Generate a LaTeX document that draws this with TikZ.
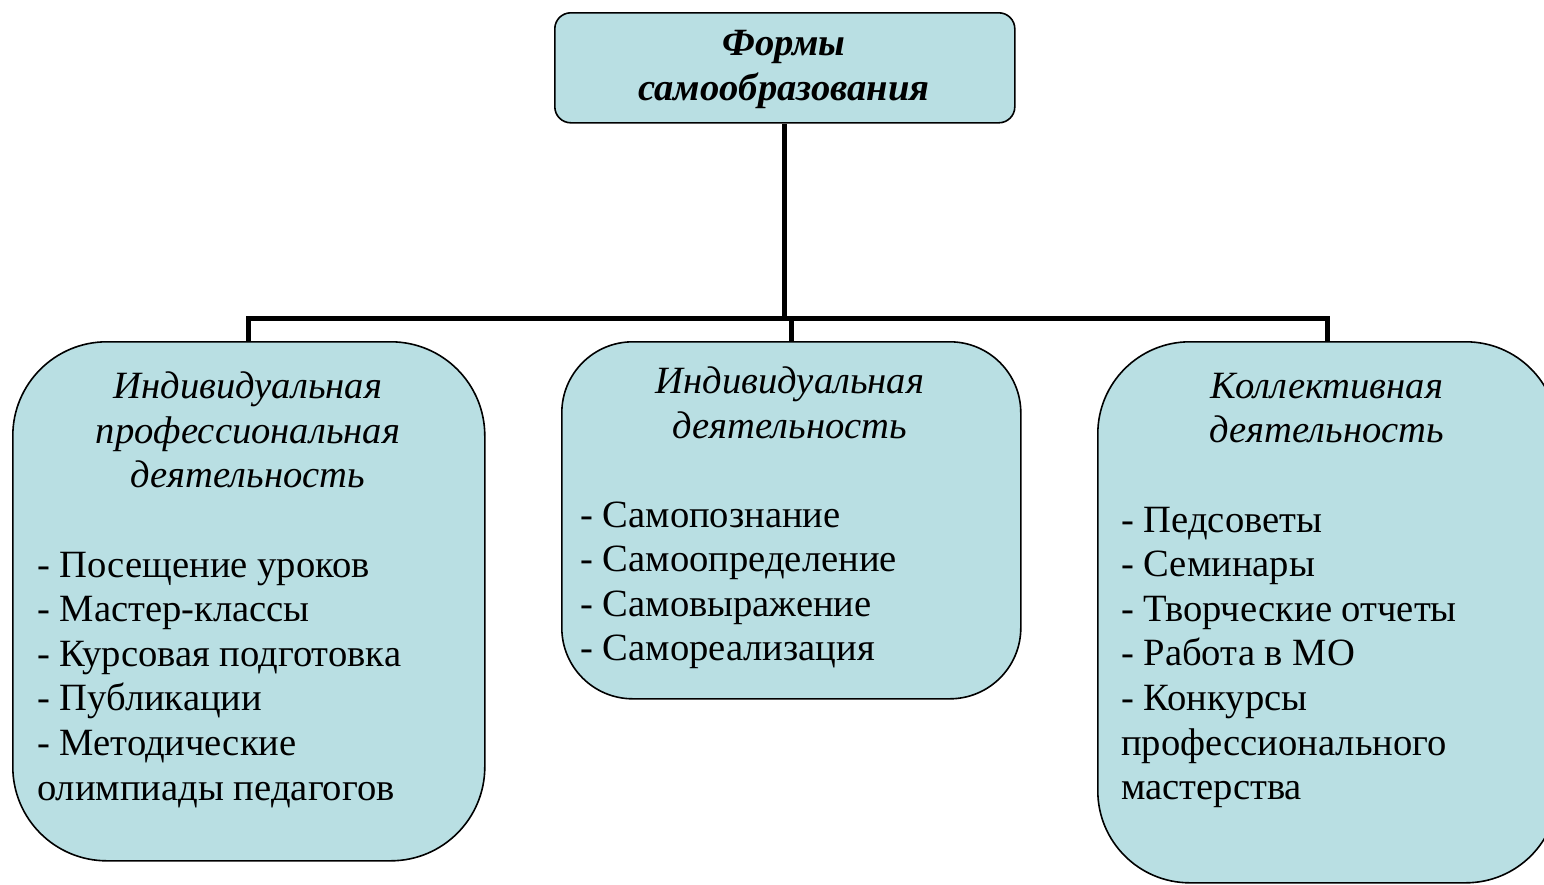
\documentclass[tikz,border=0pt]{standalone}
\usepackage{fontspec}
\setmainfont{Liberation Serif}
\definecolor{boxfill}{RGB}{185,223,227}
\tikzset{
  box/.style={draw=black, line width=1.6pt, fill=boxfill, inner sep=0pt, anchor=north west},
  conn/.style={line width=5pt, line join=miter},
  body/.style={font=\fontsize{38.6}{45}\selectfont, inner sep=0pt, anchor=base west},
  head/.style={font=\fontsize{38.6}{45}\selectfont\itshape, inner sep=0pt, anchor=base},
  title/.style={font=\fontsize{38.6}{45}\selectfont\bfseries\itshape, inner sep=0pt, anchor=base},
}
\begin{document}
\begin{tikzpicture}[x=1pt,y=-1pt]
\useasboundingbox (0,0) rectangle (1544,884);
% boxes
\node[box, rounded corners=16, minimum width=460, minimum height=110] (top) at (554,12) {};
\node[box, rounded corners=94, minimum width=472, minimum height=519] (L) at (12,341) {};
\node[box, rounded corners=71, minimum width=459, minimum height=357] (M) at (561,341) {};
\node[box, rounded corners=92, minimum width=460, minimum height=541] (R) at (1097,341) {};
% connectors
\coordinate (j) at (784,318);
\draw[conn] (top.south) -- (top.south |- j);
\draw[conn] (L.north) -- (L.north |- j) -- (R.north |- j) -- (R.north);
\draw[conn] (M.north |- j) -- (M.north);
% title
\node[title] (t1) at (784,55) {Формы};
\node[title] (t2) at (784,100) {самообразования};
% left box
\node[head] (lh1) at (248,398) {Индивидуальная};
\node[head] (lh2) at (248,443) {профессиональная};
\node[head] (lh3) at (248,487) {деятельность};
\foreach \s [count=\i] in {- Посещение уроков, - Мастер-классы, - Курсовая подготовка, - Публикации, - Методические, олимпиады педагогов}
  \node[body] (li\i) at (37, 577+44.6*\i-44.6) {\s};
% middle box
\node[head] (mh1) at (790,393) {Индивидуальная};
\node[head] (mh2) at (790,438) {деятельность};
\foreach \s [count=\i] in {- Самопознание, - Самоопределение, - Самовыражение, - Самореализация}
  \node[body] (mi\i) at (580, 527+44.6*\i-44.6) {\s};
% right box
\node[head] (rh1) at (1327,398) {Коллективная};
\node[head] (rh2) at (1327,442) {деятельность};
\foreach \s [count=\i] in {- Педсоветы, - Семинары, - Творческие отчеты, - Работа в МО, - Конкурсы, профессионального, мастерства}
  \node[body] (ri\i) at (1121, 532+44.6*\i-44.6) {\s};
\end{tikzpicture}
\end{document}
